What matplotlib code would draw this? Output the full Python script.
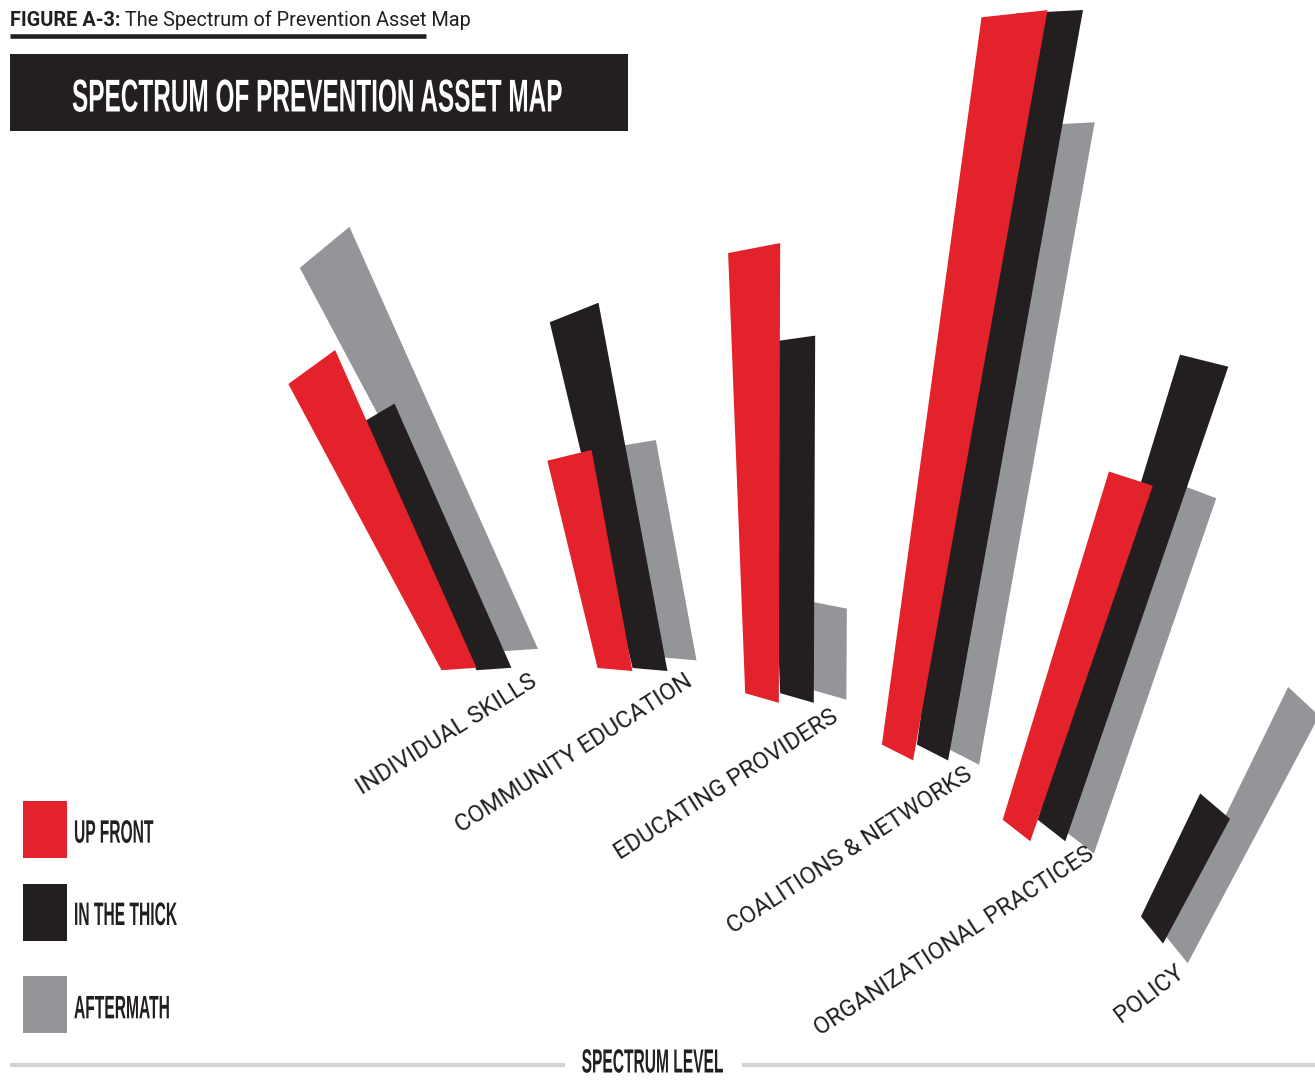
import numpy as np
import matplotlib
matplotlib.use("Agg")
import matplotlib.pyplot as plt
import matplotlib.text as mtext
from matplotlib.patches import Polygon, Rectangle
from matplotlib.patheffects import AbstractPathEffect
from matplotlib.transforms import Affine2D, Bbox

# ---------------- data ----------------
categories = ["INDIVIDUAL SKILLS", "COMMUNITY EDUCATION", "EDUCATING PROVIDERS",
              "COALITIONS & NETWORKS", "ORGANIZATIONAL PRACTICES", "POLICY"]
series = ["UP FRONT", "IN THE THICK", "AFTERMATH"]
up_front = [33.6, 21.9, 45.0, 74.8, 37.0, 0.0]
in_the_thick = [28.0, 36.5, 35.9, 75.0, 49.4, 13.9]
aftermath = [44.8, 22.0, 9.0, 64.1, 37.1, 27.9]
title = "SPECTRUM OF PREVENTION ASSET MAP"
caption_bold = "FIGURE A-3:"
caption_rest = " The Spectrum of Prevention Asset Map"
axis_label = "SPECTRUM LEVEL"

# ---------------- layout / style ----------------
W, H = 1315, 1080
UNIT = 10.0                      # pixels per value unit along a bar
colors = ["#e4222b", "#231f20", "#939598"]
ink = "#231f20"
rule_grey = "#d1d3d4"
anchor_x = [459, 615, 762, 897.5, 1016.5, 1117]
anchor_y = [669, 669.5, 698, 752.5, 830.5, 930]
series_dx = [[0] * 6, [35] * 6, [62, 64.6, 68, 66.5, 64, 60]]
series_dy = [[0] * 6, [0] * 6, [-19, -10.6, -3, 4.5, 12.6, 20]]
lean = [-26, -12, -1, 9, 18, 27]
bottom_cap = [-4, 5, 16, 27, 38, 51]
taper = [0.068, 0.048, 0.04, 0.042, 0.03, 0.03]
bottom_w = [35, 35, 34]
top_cap = [[-36, -13.7, -10.9, -6.2, 18, 30],
           [-30.6, -21.8, -8, -3, 14, 40.4],
           [-39.6, -9.5, 11, -3, 20.8, 43]]
label_x = [447, 573.5, 726, 849.5, 954, 1149]
label_y = [734, 753.5, 785, 850, 941.5, 993.5]
label_rot = [32, 32.5, 32.5, 33, 33, 37]
legend_top = [801, 884, 976]
legend_base = [842.7, 925, 1018.3]

SANS = ["Roboto", "DejaVu Sans"]
COND = ["Liberation Sans", "DejaVu Sans"]


class Squeeze(AbstractPathEffect):
    """Condense glyphs horizontally (along the text baseline)."""
    def __init__(self, sx, anchor="center"):
        super().__init__()
        self.sx = sx
        self.anchor = anchor

    def draw_path(self, renderer, gc, tpath, affine, rgbFace=None):
        v = tpath.vertices
        if len(v):
            cx = v[:, 0].min() if self.anchor == "left" else 0.5 * (v[:, 0].min() + v[:, 0].max())
        else:
            cx = 0.0
        a = Affine2D().translate(-cx, 0).scale(self.sx, 1.0).translate(cx, 0) + affine
        renderer.draw_path(gc, tpath, a, rgbFace)


class SqueezedText(mtext.Text):
    def __init__(self, x, y, s, squeeze=1.0, **kw):
        super().__init__(x, y, s, **kw)
        self._sq = squeeze
        self.set_path_effects([Squeeze(squeeze, "left" if self.get_horizontalalignment() == "left" else "center")])

    def get_window_extent(self, renderer=None, dpi=None):
        bb = super().get_window_extent(renderer=renderer, dpi=dpi)
        w = bb.width * self._sq
        ha = self.get_horizontalalignment()
        if ha == "center":
            x0 = bb.x0 + (bb.width - w) / 2
        elif ha == "right":
            x0 = bb.x1 - w
        else:
            x0 = bb.x0
        return Bbox.from_bounds(x0, bb.y0, w, bb.height)


def bar_poly(bx, by, length, lean_deg, wb, wt, cb_deg, ct_deg):
    th = np.radians(lean_deg)
    u = np.array([np.sin(th), -np.cos(th)])
    B = np.array([bx, by], dtype=float)
    T = B + length * u
    eb = np.array([np.cos(np.radians(cb_deg)), np.sin(np.radians(cb_deg))])
    et = np.array([np.cos(np.radians(ct_deg)), np.sin(np.radians(ct_deg))])
    return np.array([B - wb / 2 * eb, B + wb / 2 * eb, T + wt / 2 * et, T - wt / 2 * et])


fig = plt.figure(figsize=(W / 100, H / 100), dpi=100, facecolor="white")
ax = fig.add_axes([0, 0, 1, 1])
ax.set_xlim(0, W)
ax.set_ylim(H, 0)
ax.axis("off")

# ---------------- bars ----------------
values = [up_front, in_the_thick, aftermath]
for i in range(len(categories)):
    for j in (2, 1, 0):
        v = values[j][i]
        if v <= 0:
            continue
        L = v * UNIT
        wb = bottom_w[j]
        wt = wb + taper[i] * L
        pts = bar_poly(anchor_x[i] + series_dx[j][i], anchor_y[i] + series_dy[j][i],
                       L, lean[i], wb, wt, bottom_cap[i], top_cap[j][i])
        ax.add_patch(Polygon(pts, closed=True, facecolor=colors[j], edgecolor="none",
                             zorder=3 - j + 1))

# ---------------- category labels ----------------
for i, name in enumerate(categories):
    ax.text(label_x[i], label_y[i], name, rotation=label_rot[i], rotation_mode="anchor",
            ha="center", va="center", fontsize=17.1, family=SANS, color=ink, zorder=10)

# ---------------- caption & title ----------------
t1 = ax.text(10, 26, caption_bold, fontsize=14.3, family=SANS, fontweight="bold",
             color=ink, ha="left", va="baseline")
ax.annotate(caption_rest, xy=(1, 0), xycoords=t1, ha="left", va="bottom",
            fontsize=14.3, family=SANS, color=ink)
ax.plot([10, 425.7], [35.5, 35.5], color=ink, lw=3.3, solid_capstyle="butt")
ax.add_patch(Rectangle((10, 54), 618, 77, facecolor=ink, edgecolor="none"))
ax.add_artist(SqueezedText(72, 111.5, title, squeeze=0.53, ha="left", va="baseline",
                           fontsize=33.1, family=COND, fontweight="bold", color="white"))

# ---------------- legend ----------------
for j, name in enumerate(series):
    ax.add_patch(Rectangle((23, legend_top[j]), 44, 57, facecolor=colors[j], edgecolor="none"))
    ax.add_artist(SqueezedText(74, legend_base[j], name, squeeze=0.48, ha="left", va="baseline",
                               fontsize=23.4, family=COND, fontweight="bold", color=ink))

# ---------------- axis label ----------------
ax.plot([10, 565], [1065, 1065], color=rule_grey, lw=3.0, solid_capstyle="butt")
ax.plot([742, 1315], [1065, 1065], color=rule_grey, lw=3.0, solid_capstyle="butt")
ax.add_artist(SqueezedText(653, 1079.5, axis_label, squeeze=0.465, ha="center", va="bottom",
                           fontsize=24.1, family=COND, fontweight="bold", color=ink))

fig.savefig("out.png", dpi=100, facecolor="white")
